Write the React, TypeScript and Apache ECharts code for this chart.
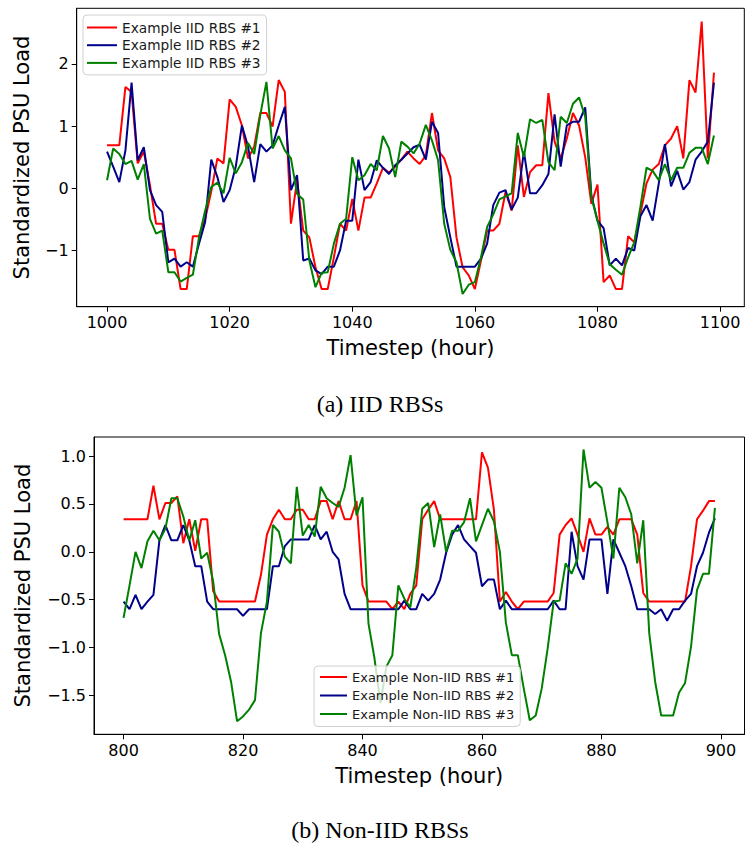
import React, { useEffect, useRef } from "react";
import * as echarts from "echarts";

// ---------- data ----------
const iidStart = 1000;
const nonIidStart = 800;

const iidRbs1 = [0.69, 0.69, 0.69, 1.63, 1.55, 0.40, 0.59, 0.05, -0.57, -0.57,
  -0.99, -0.99, -1.62, -1.62, -0.77, -0.77, -0.5, -0.05, 0.48, 0.40,
  1.43, 1.31, 1.01, 0.48, 0.67, 1.21, 1.21, 0.99, 1.74, 1.55,
  -0.57, 0.13, -0.68, -0.79, -1.27, -1.62, -1.62, -1.11, -0.57, -0.68,
  -0.17, -0.68, -0.15, -0.15, 0.08, 0.33, 0.25, 0.35, 0.46, 0.59,
  0.48, 0.39, 0.53, 1.21, 0.61, 0.48, 0.18, -0.79, -1.27, -1.40,
  -1.62, -1.16, -0.68, -0.68, -0.57, -0.06, -0.36, 0.69, -0.14, 0.26,
  0.37, 0.37, 1.53, 0.75, 0.48, 0.80, 1.21, 1.01, 0.50, -0.25,
  0.06, -1.51, -1.40, -1.62, -1.62, -0.77, -0.87, -0.41, 0.08, 0.30,
  0.39, 0.69, 0.80, 1.00, 0.48, 1.74, 1.54, 2.68, 0.48, 1.86];

const iidRbs2 = [0.59, 0.35, 0.10, 0.61, 1.70, 0.45, 0.66, -0.03, -0.27, -0.38,
  -1.19, -1.13, -1.26, -1.19, -1.26, -0.89, -0.54, 0.46, 0.18, -0.22,
  -0.03, 0.35, 1.01, 0.67, 0.10, 0.71, 0.59, 0.69, 1.01, 1.31,
  -0.03, 0.21, -1.16, -1.13, -1.32, -1.38, -1.26, -1.26, -1.00, -0.52,
  -0.52, 0.46, -0.03, 0.10, 0.45, 0.33, 0.23, 0.37, 0.46, 0.56,
  0.66, 0.70, 0.46, 1.07, 0.89, -0.30, -0.79, -1.26, -1.26, -1.26,
  -1.26, -1.13, -0.89, -0.27, -0.07, -0.03, -0.34, -0.15, 0.59, -0.08,
  -0.08, 0.05, 0.23, 1.19, 0.35, 1.01, 1.07, 1.07, 1.30, -0.11,
  -0.52, -0.64, -1.24, -1.13, -1.24, -0.96, -1.00, -0.45, -0.27, -0.52,
  0.08, 0.71, 0.03, 0.28, -0.02, 0.10, 0.46, 0.59, 0.75, 1.70];

const iidRbs3 = [0.13, 0.64, 0.55, 0.39, 0.44, 0.14, 0.39, -0.49, -0.73, -0.68,
  -1.35, -1.35, -1.50, -1.44, -1.39, -0.79, -0.36, 0.02, 0.09, -0.08,
  0.49, 0.24, 0.42, 0.73, 0.55, 1.18, 1.71, 0.64, 0.84, 0.61,
  0.48, -0.09, -0.18, -1.16, -1.59, -1.36, -1.35, -0.89, -0.57, -0.49,
  0.50, 0.13, 0.21, 0.39, 0.29, 0.84, 0.64, 0.18, 0.75, 0.67,
  0.56, 0.72, 1.02, 0.77, 0.45, -0.57, -0.99, -1.19, -1.70, -1.55,
  -1.51, -1.11, -0.62, -0.42, -0.18, -0.13, -0.08, 0.89, 0.50, 1.11,
  1.05, 1.10, 0.42, 0.29, 1.15, 1.05, 1.36, 1.46, 1.15, -0.14,
  -0.52, -0.89, -1.22, -1.31, -1.39, -1.11, -0.87, -0.30, 0.33, 0.28,
  0.13, 0.39, 0.13, 0.33, 0.33, 0.57, 0.65, 0.65, 0.39, 0.85];

const nonIidRbs1 = [0.34, 0.34, 0.34, 0.34, 0.34, 0.69, 0.34, 0.51, 0.51, 0.58,
  0.09, 0.34, 0.01, 0.34, 0.34, -0.41, -0.52, -0.52, -0.52, -0.52,
  -0.52, -0.52, -0.52, -0.24, 0.18, 0.34, 0.44, 0.34, 0.34, 0.44,
  0.44, 0.34, 0.34, 0.53, 0.53, 0.34, 0.53, 0.34, 0.34, 0.53,
  -0.35, -0.52, -0.52, -0.52, -0.52, -0.60, -0.52, -0.60, -0.44, -0.35,
  0.34, 0.44, 0.53, 0.34, 0.34, 0.34, 0.34, 0.34, 0.34, 0.34,
  1.04, 0.88, 0.44, -0.52, -0.42, -0.52, -0.60, -0.52, -0.52, -0.52,
  -0.52, -0.52, -0.43, 0.18, 0.28, 0.35, 0.18, 0.00, 0.35, 0.18,
  0.18, 0.26, 0.18, 0.34, 0.34, 0.34, 0.18, -0.43, -0.52, -0.52,
  -0.52, -0.52, -0.52, -0.52, -0.52, -0.15, 0.34, 0.43, 0.53, 0.53];

const nonIidRbs2 = [-0.52, -0.60, -0.45, -0.60, -0.52, -0.45, 0.12, 0.28, 0.12, 0.12,
  0.28, 0.12, -0.15, -0.15, -0.52, -0.60, -0.60, -0.60, -0.60, -0.60,
  -0.67, -0.60, -0.60, -0.60, -0.60, -0.15, -0.15, 0.06, 0.13, 0.13,
  0.13, 0.13, 0.28, 0.13, 0.21, 0.00, -0.08, -0.44, -0.60, -0.60,
  -0.60, -0.60, -0.60, -0.60, -0.60, -0.60, -0.60, -0.51, -0.60, -0.60,
  -0.44, -0.51, -0.44, -0.29, -0.01, 0.18, 0.28, 0.13, 0.06, -0.01,
  -0.36, -0.29, -0.29, -0.60, -0.51, -0.60, -0.60, -0.60, -0.60, -0.60,
  -0.60, -0.60, -0.51, -0.60, -0.60, 0.21, -0.15, -0.29, 0.13, 0.13,
  0.13, -0.44, 0.13, -0.01, -0.15, -0.36, -0.60, -0.60, -0.60, -0.65,
  -0.60, -0.72, -0.60, -0.60, -0.51, -0.44, -0.15, -0.01, 0.20, 0.35];

const nonIidRbs3 = [-0.69, -0.35, 0.00, -0.17, 0.11, 0.22, 0.12, 0.24, 0.56, 0.56,
  0.37, 0.12, 0.33, -0.07, -0.01, -0.31, -0.86, -1.08, -1.36, -1.77,
  -1.72, -1.65, -1.55, -0.85, -0.52, 0.28, 0.21, -0.05, -0.12, 0.68,
  0.17, 0.28, 0.16, 0.68, 0.56, 0.51, 0.47, 0.67, 1.01, 0.38,
  0.57, -0.75, -1.11, -1.58, -1.20, -1.08, -0.35, -0.49, -0.58, -0.17,
  0.45, 0.51, 0.05, 0.39, 0.00, 0.22, 0.22, 0.31, 0.56, 0.11,
  0.28, 0.45, 0.32, 0.00, -0.74, -1.08, -1.08, -1.43, -1.76, -1.71,
  -1.43, -1.01, -0.52, -0.51, -0.12, -0.23, -0.07, 1.07, 0.67, 0.73,
  0.67, 0.31, -0.07, 0.67, 0.57, 0.39, -0.12, 0.33, -0.85, -1.36,
  -1.71, -1.71, -1.71, -1.47, -1.37, -0.99, -0.40, -0.23, -0.23, 0.46];

const iidNames = ["Example IID RBS #1", "Example IID RBS #2", "Example IID RBS #3"];
const nonIidNames = ["Example Non-IID RBS #1", "Example Non-IID RBS #2", "Example Non-IID RBS #3"];
const seriesColors = ["#ff0000", "#00008b", "#008000"];

const iidXTicks = [1000, 1020, 1040, 1060, 1080, 1100];
const iidYTicks = [-1, 0, 1, 2];
const nonIidXTicks = [800, 820, 840, 860, 880, 900];
const nonIidYTicks = [-1.5, -1.0, -0.5, 0.0, 0.5, 1.0];

const FONT = "DejaVu Sans";

const toPairs = (start: number, vals: number[]) => vals.map((v, i) => [start + i, v]);
const minus = (s: string) => s.replace("-", "\u2212");

function makeXAxis(gridIndex: number, min: number, max: number, ticks: number[]) {
  return {
    type: "value",
    gridIndex,
    min,
    max,
    name: "Timestep (hour)",
    nameLocation: "middle",
    nameGap: 31,
    nameTextStyle: { fontFamily: FONT, fontSize: 21, color: "#000" },
    axisLine: { show: true, onZero: false, lineStyle: { color: "#000", width: 1 } },
    axisTick: { show: true, length: 5, inside: false, customValues: ticks, lineStyle: { color: "#000" } },
    axisLabel: {
      customValues: ticks,
      margin: 8,
      fontFamily: FONT,
      fontSize: 16,
      color: "#000",
      formatter: (v: number) => String(v),
    },
    splitLine: { show: false },
  };
}

function makeYAxis(gridIndex: number, min: number, max: number, ticks: number[], dec: number, gap: number) {
  return {
    type: "value",
    gridIndex,
    min,
    max,
    name: "Standardized PSU Load",
    nameLocation: "middle",
    nameRotate: 90,
    nameGap: gap,
    nameTextStyle: { fontFamily: FONT, fontSize: 21, color: "#000" },
    axisLine: { show: true, onZero: false, lineStyle: { color: "#000", width: 1 } },
    axisTick: { show: true, length: 5, inside: false, customValues: ticks, lineStyle: { color: "#000" } },
    axisLabel: {
      customValues: ticks,
      margin: 8,
      fontFamily: FONT,
      fontSize: 16,
      color: "#000",
      formatter: (v: number) => minus(v.toFixed(dec)),
    },
    splitLine: { show: false },
  };
}

export default function App() {
  const ref = useRef<HTMLDivElement>(null);

  useEffect(() => {
    if (!ref.current) return;
    const chart = echarts.init(ref.current, undefined, { renderer: "svg" });

    const iidData = [iidRbs1, iidRbs2, iidRbs3];
    const nonIidData = [nonIidRbs1, nonIidRbs2, nonIidRbs3];

    const series: any[] = [];
    iidData.forEach((vals, k) => {
      series.push({
        type: "line",
        name: iidNames[k],
        xAxisIndex: 0,
        yAxisIndex: 0,
        data: toPairs(iidStart, vals),
        symbol: "none",
        color: seriesColors[k],
        lineStyle: { width: 2, color: seriesColors[k] },
        z: 2 + k,
      });
    });
    nonIidData.forEach((vals, k) => {
      series.push({
        type: "line",
        name: nonIidNames[k],
        xAxisIndex: 1,
        yAxisIndex: 1,
        data: toPairs(nonIidStart, vals),
        symbol: "none",
        color: seriesColors[k],
        lineStyle: { width: 2, color: seriesColors[k] },
        z: 2 + k,
      });
    });

    const legendCommon = {
      orient: "vertical",
      icon: "rect",
      itemHeight: 2,
      backgroundColor: "rgba(255,255,255,0.8)",
      borderColor: "#d0d0d0",
      borderWidth: 1,
      borderRadius: 4,
      selectedMode: false,
      z: 10,
    };

    chart.setOption({
      animation: false,
      backgroundColor: "#fff",
      grid: [
        { left: 76.7, top: 8.3, width: 667.6, height: 298.4, show: true, borderColor: "#000", borderWidth: 1, backgroundColor: "transparent", containLabel: false },
        { left: 94, top: 437, width: 650.5, height: 297.3, show: true, borderColor: "#000", borderWidth: 1, backgroundColor: "transparent", containLabel: false },
      ],
      xAxis: [
        makeXAxis(0, 995.05, 1103.95, iidXTicks),
        makeXAxis(1, 795.05, 903.95, nonIidXTicks),
      ],
      yAxis: [
        makeYAxis(0, -1.904, 2.894, iidYTicks, 0, 44),
        makeYAxis(1, -1.907, 1.2, nonIidYTicks, 1, 61),
      ],
      legend: [
        {
          ...legendCommon,
          data: iidNames,
          left: 83,
          top: 15,
          itemWidth: 30,
          itemTextGap: 9,
          itemGap: 3.7,
          padding: [5.5, 6, 5, 4],
          textStyle: { fontFamily: FONT, fontSize: 13.7, color: "#1a1a1a" },
        },
        {
          ...legendCommon,
          data: nonIidNames,
          left: 314,
          top: 666,
          itemWidth: 27,
          itemTextGap: 10,
          itemGap: 5.5,
          padding: [4.5, 6, 6, 6],
          textStyle: { fontFamily: FONT, fontSize: 13, color: "#1a1a1a" },
        },
      ],
      series,
      graphic: [
        {
          type: "text",
          x: 380,
          y: 404,
          style: { text: "(a) IID RBSs", fontFamily: "Liberation Serif", fontSize: 24, fill: "#000", align: "center", verticalAlign: "middle" },
        },
        {
          type: "text",
          x: 380,
          y: 830,
          style: { text: "(b) Non-IID RBSs", fontFamily: "Liberation Serif", fontSize: 24, fill: "#000", align: "center", verticalAlign: "middle" },
        },
      ],
    });

    return () => chart.dispose();
  }, []);

  return (
    <div
      ref={ref}
      style={{ position: "absolute", left: 0, top: 0, width: 745, height: 843, background: "#fff" }}
    />
  );
}
